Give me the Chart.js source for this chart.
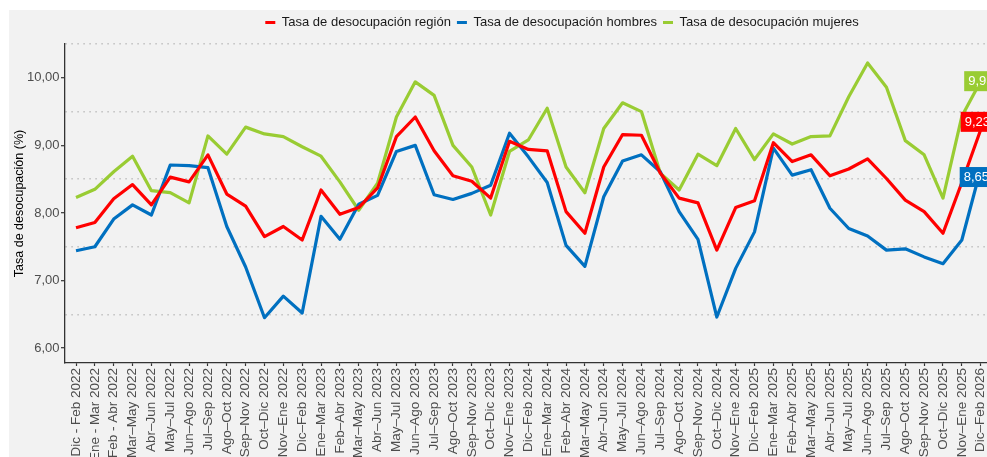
<!DOCTYPE html>
<html>
<head>
<meta charset="utf-8">
<script src="https://cdn.jsdelivr.net/npm/chart.js@4.4.0/dist/chart.umd.min.js"></script>
<style>
  html, body { margin: 0; padding: 0; background: #fff; overflow: hidden; width: 987px; height: 457px; }
  #wrap { position: absolute; left: 9px; top: 10px; width: 1106px; height: 447px; background: #f2f2f2; }
</style>
</head>
<body>
<div id="wrap"><canvas id="chart" width="1106" height="447"></canvas></div>
<script>
const categories = [
    'Dic - Feb 2022', 'Ene - Mar 2022', 'Feb - Abr 2022', 'Mar–May 2022', 'Abr–Jun 2022', 'May–Jul 2022',
    'Jun–Ago 2022', 'Jul–Sep 2022', 'Ago–Oct 2022', 'Sep–Nov 2022', 'Oct–Dic 2022', 'Nov–Ene 2022',
    'Dic–Feb 2023', 'Ene–Mar 2023', 'Feb–Abr 2023', 'Mar–May 2023', 'Abr–Jun 2023', 'May–Jul 2023',
    'Jun–Ago 2023', 'Jul–Sep 2023', 'Ago–Oct 2023', 'Sep–Nov 2023', 'Oct–Dic 2023', 'Nov–Ene 2023',
    'Dic–Feb 2024', 'Ene–Mar 2024', 'Feb–Abr 2024', 'Mar–May 2024', 'Abr–Jun 2024', 'May–Jul 2024',
    'Jun–Ago 2024', 'Jul–Sep 2024', 'Ago–Oct 2024', 'Sep–Nov 2024', 'Oct–Dic 2024', 'Nov–Ene 2024',
    'Dic–Feb 2025', 'Ene–Mar 2025', 'Feb–Abr 2025', 'Mar–May 2025', 'Abr–Jun 2025', 'May–Jul 2025',
    'Jun–Ago 2025', 'Jul–Sep 2025', 'Ago–Oct 2025', 'Sep–Nov 2025', 'Oct–Dic 2025', 'Nov–Ene 2025',
    'Dic–Feb 2026'
];

const tasaRegion = [
    7.78, 7.86, 8.21, 8.42, 8.12, 8.53, 8.46, 8.86, 8.28, 8.10,
    7.65, 7.80, 7.60, 8.34, 7.98, 8.08, 8.37, 9.13, 9.42, 8.92,
    8.55, 8.47, 8.22, 9.06, 8.94, 8.92, 8.02, 7.70, 8.68, 9.16,
    9.15, 8.59, 8.22, 8.15, 7.45, 8.08, 8.18, 9.04, 8.76, 8.86,
    8.55, 8.65, 8.80, 8.51, 8.19, 8.02, 7.70, 8.45, 9.23
];

const tasaHombres = [
    7.44, 7.50, 7.91, 8.12, 7.97, 8.71, 8.70, 8.67, 7.80, 7.20,
    6.45, 6.77, 6.52, 7.95, 7.61, 8.13, 8.26, 8.91, 9.00, 8.27,
    8.20, 8.29, 8.41, 9.18, 8.83, 8.45, 7.52, 7.21, 8.24, 8.77,
    8.86, 8.61, 8.02, 7.61, 6.46, 7.18, 7.72, 8.96, 8.56, 8.64,
    8.07, 7.77, 7.66, 7.45, 7.47, 7.35, 7.25, 7.60, 8.65
];

const tasaMujeres = [
    8.23, 8.35, 8.61, 8.84, 8.33, 8.30, 8.15, 9.14, 8.87, 9.27,
    9.17, 9.13, 8.98, 8.84, 8.46, 8.04, 8.44, 9.42, 9.94, 9.74,
    9.00, 8.68, 7.97, 8.91, 9.08, 9.55, 8.68, 8.30, 9.25, 9.63,
    9.50, 8.59, 8.34, 8.87, 8.70, 9.25, 8.79, 9.17, 9.02, 9.13,
    9.14, 9.72, 10.22, 9.86, 9.07, 8.86, 8.22, 9.43, 9.95
];

const yTicks = [6, 6.5, 7, 7.5, 8, 8.5, 9, 9.5, 10, 10.5];

const seriesNames = ['Tasa de desocupación región', 'Tasa de desocupación hombres', 'Tasa de desocupación mujeres'];
const seriesColors = ['#ff0000', '#0070c0', '#99cc33'];
// nudge of the end value boxes, in px
const endLabelNudge = [{ dx: -20, dy: -8 }, { dx: -21, dy: 8 }, { dx: -16.5, dy: 0 }];

Chart.defaults.font.family = "'Liberation Sans', Arial, sans-serif";
Chart.defaults.font.size = 13;
Chart.defaults.color = '#4d4d4d';

function fmt(v) {
    return v.toFixed(2).replace('.', ',');
}

function toPoints(arr) {
    return arr.map((v, i) => ({ x: i, y: v }));
}

const endLabels = {
    id: 'endLabels',
    afterDatasetsDraw(chart) {
        const ctx = chart.ctx;
        ctx.save();
        ctx.font = "13px 'Liberation Sans', Arial, sans-serif";
        ctx.textBaseline = 'middle';
        ctx.textAlign = 'left';
        chart.data.datasets.forEach((ds, i) => {
            const meta = chart.getDatasetMeta(i);
            const pt = meta.data[meta.data.length - 1];
            const text = fmt(ds.data[ds.data.length - 1].y);
            const w = ctx.measureText(text).width + 8;
            const h = 20;
            const left = pt.x + endLabelNudge[i].dx;
            const cy = pt.y + endLabelNudge[i].dy;
            ctx.fillStyle = ds.borderColor;
            ctx.fillRect(left, cy - h / 2, w, h);
            ctx.fillStyle = '#fff';
            ctx.fillText(text, left + 4, cy + 0.5);
        });
        ctx.restore();
    }
};

const isInt = c => c.tick && Number.isInteger(c.tick.value);

new Chart(document.getElementById('chart'), {
    type: 'line',
    data: {
        datasets: [
            { label: seriesNames[0], data: toPoints(tasaRegion), borderColor: seriesColors[0], backgroundColor: seriesColors[0], xAxisID: 'x', yAxisID: 'y' },
            { label: seriesNames[1], data: toPoints(tasaHombres), borderColor: seriesColors[1], backgroundColor: seriesColors[1], xAxisID: 'x', yAxisID: 'y' },
            { label: seriesNames[2], data: toPoints(tasaMujeres), borderColor: seriesColors[2], backgroundColor: seriesColors[2], xAxisID: 'x', yAxisID: 'y' }
        ]
    },
    options: {
        responsive: false,
        animation: false,
        layout: { padding: 0 },
        elements: {
            line: { borderWidth: 3.2, tension: 0, borderJoinStyle: 'round' },
            point: { radius: 0, hoverRadius: 0 }
        },
        plugins: {
            legend: {
                position: 'top',
                labels: {
                    color: '#1a1a1a',
                    boxWidth: 10,
                    boxHeight: 3,
                    padding: 6,
                    font: { size: 13 },
                    generateLabels(chart) {
                        return Chart.defaults.plugins.legend.labels.generateLabels(chart)
                            .map(l => Object.assign(l, { lineWidth: 0 }));
                    }
                }
            },
            tooltip: { enabled: false }
        },
        scales: {
            x: {
                type: 'linear',
                min: -0.584,
                max: 48.6,
                afterBuildTicks(s) { s.ticks = categories.map((c, i) => ({ value: i })); },
                afterFit(s) { s.height = 94; },
                ticks: {
                    autoSkip: false,
                    maxRotation: 90,
                    minRotation: 90,
                    padding: 2,
                    color: '#4d4d4d',
                    font: { size: 13.5 },
                    callback: v => categories[v]
                },
                grid: { drawOnChartArea: false, drawTicks: true, tickLength: 3, tickColor: '#333', tickWidth: 1.2 },
                border: { display: true, color: '#333', width: 1.3 }
            },
            y: {
                type: 'linear',
                min: 5.78,
                max: 10.5,
                afterBuildTicks(s) { s.ticks = yTicks.map(v => ({ value: v })); },
                afterFit(s) { s.width = 56; },
                ticks: {
                    padding: 1.5,
                    color: '#4d4d4d',
                    font: { size: 13 },
                    callback: v => Number.isInteger(v) ? fmt(v) : ''
                },
                grid: {
                    color: c => isInt(c) ? 'rgba(0,0,0,0)' : '#c4c4c4',
                    lineWidth: 1.4,
                    tickColor: c => isInt(c) ? '#333' : 'rgba(0,0,0,0)',
                    tickWidth: 1.2,
                    tickLength: 4
                },
                border: { display: true, color: '#333', width: 1.3, dash: [1.6, 4.4] },
                title: {
                    display: true,
                    text: 'Tasa de desocupación (%)',
                    color: '#000',
                    font: { size: 12.5 },
                    padding: { top: 3, bottom: 2 }
                }
            },
            gapTop: {
                type: 'linear', axis: 'x', position: 'top', display: true,
                grid: { display: false }, border: { display: false }, ticks: { display: false },
                afterFit(s) { s.height = 5; }
            },
            gapRight: {
                type: 'linear', axis: 'y', position: 'right', display: true,
                grid: { display: false }, border: { display: false }, ticks: { display: false },
                afterFit(s) { s.width = 123; }
            }
        }
    },
    plugins: [endLabels]
});
</script>
</body>
</html>
